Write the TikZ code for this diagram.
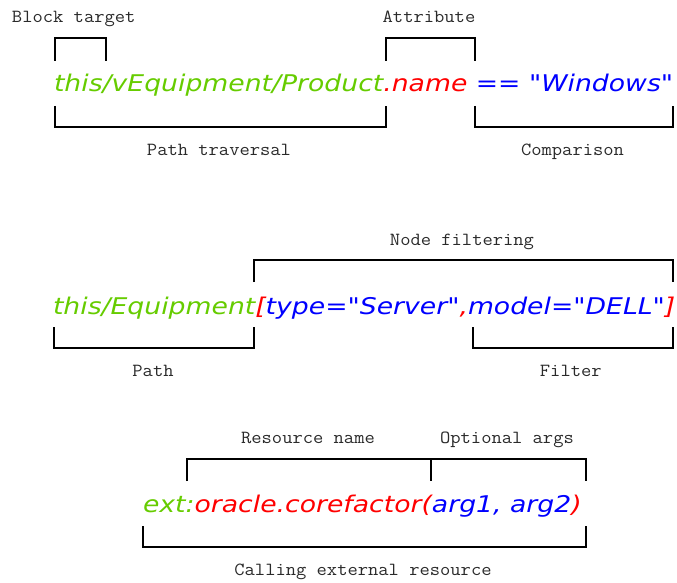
\documentclass[tikz,border=0pt]{standalone}
\usepackage{fontspec}
\newfontfamily\codefont{DejaVu Sans}[FakeStretch=1.159]
\newfontfamily\lblfont{Latin Modern Mono}[FakeStretch=1.08]
\definecolor{cgreen}{HTML}{66CC00}
\definecolor{cred}{HTML}{FF0000}
\definecolor{cblue}{HTML}{0000FF}
\definecolor{lblgray}{HTML}{2A2A2A}
\tikzset{
  code/.style={inner sep=0pt, outer sep=0pt, anchor=base west,
    font=\codefont\itshape\fontsize{23}{27}\selectfont},
  lbl/.style={inner sep=0pt, outer sep=0pt, anchor=base, text=lblgray,
    font=\lblfont\fontsize{18.5}{22}\selectfont},
  brk/.style={draw=black, line width=2pt, line join=miter, line cap=butt}
}
\begin{document}
\begin{tikzpicture}[x=1pt,y=-1pt]
\useasboundingbox (0,0) rectangle (677,583);
\fill[white] (0,0) rectangle (677,583);

% ---------- Row 1 ----------
\node[code] (r1) at (54,92) {{\color{cgreen}this/vEquipment/Product}{\color{cred}.name} {\color{cblue}== "Windows"}};
\node[lbl, anchor=base west] (blocktarget) at (12,23) {Block target};
\node[lbl] (attribute) at (429,23) {Attribute};
\node[lbl] (pathtrav) at (219,155) {Path traversal};
\node[lbl] (comparison) at (572.5,155) {Comparison};
\draw[brk] (55,61) -- (55,38) -- (106,38) -- (106,61);
\draw[brk] (386,61) -- (386,38) -- (475,38) -- (475,61);
\draw[brk] (55,106) -- (55,127) -- (386,127) -- (386,106);
\draw[brk] (475,106) -- (475,127) -- (673,127) -- (673,106);

% ---------- Row 2 ----------
\node[code] (r2) at (53,314.5) {{\color{cgreen}this/Equipment}{\color{cred}[}{\color{cblue}type="Server"}{\color{cred},}{\color{cblue}model="DELL"}{\color{cred}]}};
\node[lbl] (nodefilt) at (462,245) {Node filtering};
\node[lbl] (path) at (153,376.7) {Path};
\node[lbl] (filter) at (570.8,376.7) {Filter};
\draw[brk] (254,282) -- (254,260) -- (673,260) -- (673,282);
\draw[brk] (54,327) -- (54,348) -- (254,348) -- (254,327);
\draw[brk] (473,327) -- (473,348) -- (673,348) -- (673,327);

% ---------- Row 3 ----------
\node[code] (r3) at (143,512) {{\color{cgreen}ext:}{\color{cred}oracle.corefactor(}{\color{cblue}arg1, arg2}{\color{cred})}};
\node[lbl] (resname) at (308,443.3) {Resource name};
\node[lbl] (optargs) at (507,443.3) {Optional args};
\node[lbl] (calling) at (363,575) {Calling external resource};
\draw[brk] (187,481) -- (187,459) -- (586,459) -- (586,481);
\draw[brk] (431,459) -- (431,481);
\draw[brk] (143,526) -- (143,547) -- (586,547) -- (586,526);
\end{tikzpicture}
\end{document}
